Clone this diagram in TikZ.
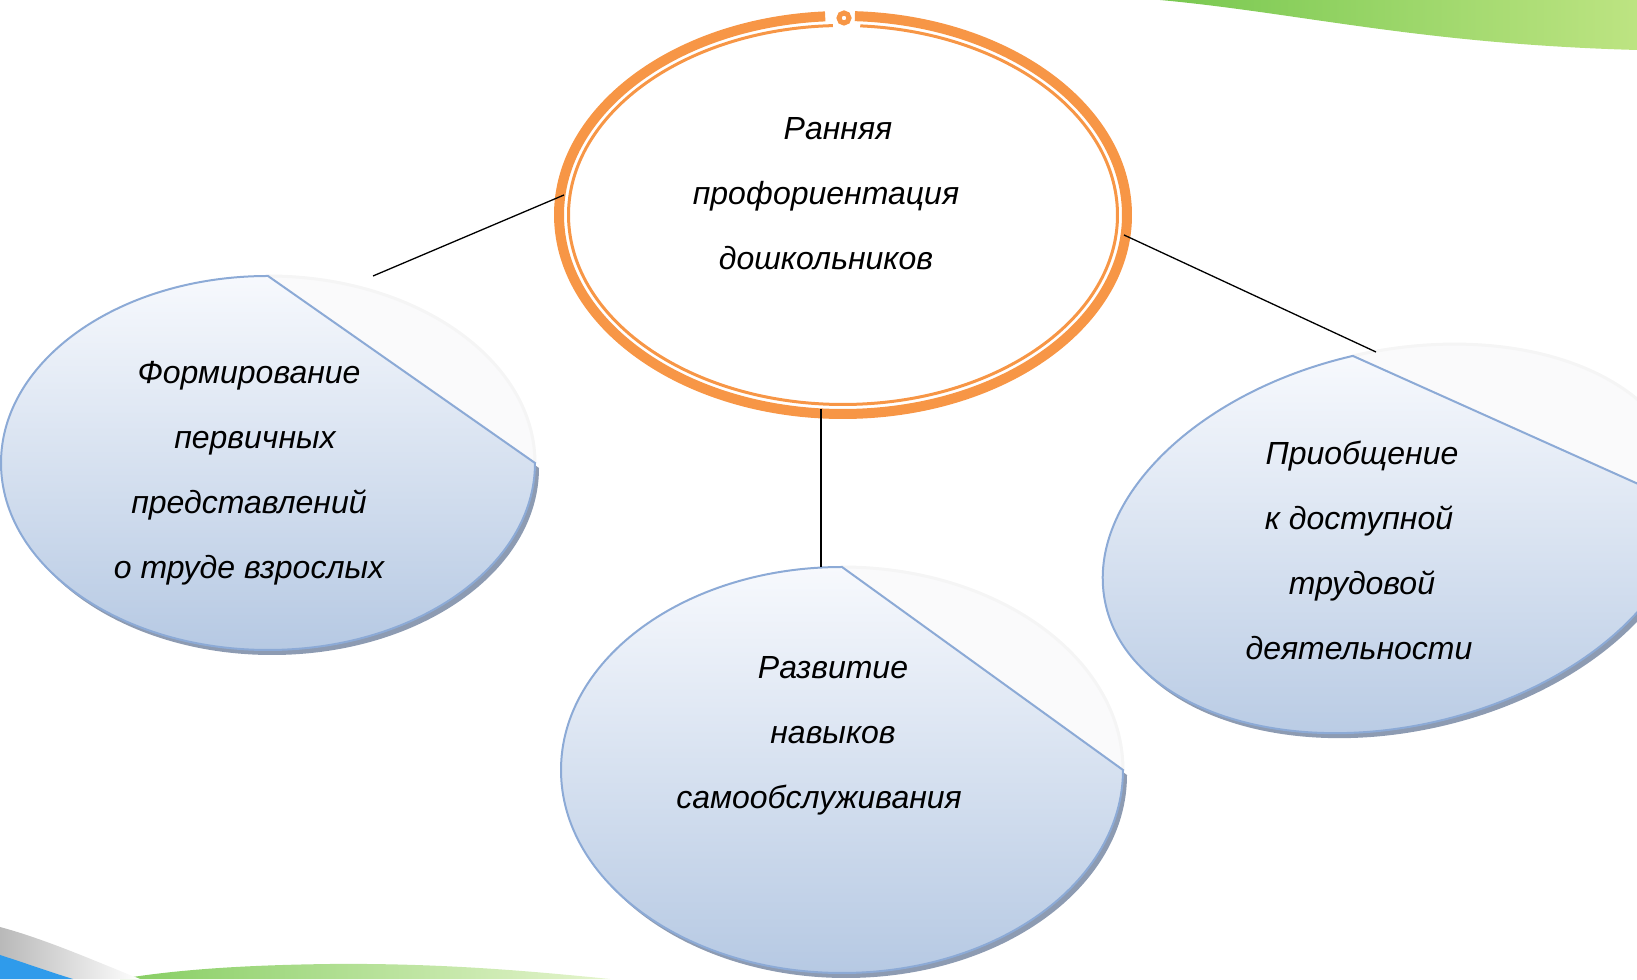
\documentclass[tikz,border=0pt]{standalone}
\usepackage{fontspec}
\setmainfont{Liberation Sans}
\definecolor{band}{HTML}{F79646}
\definecolor{edge}{HTML}{8CAAD6}
\definecolor{topfill}{HTML}{F7F9FD}
\definecolor{botfill}{HTML}{B6C9E3}
\definecolor{shadowc}{HTML}{8D9BB2}
\definecolor{faint}{HTML}{FAFAFB}
\definecolor{greenA}{HTML}{78C850}
\definecolor{greenB}{HTML}{BDE482}
\definecolor{blueC}{HTML}{2F9BEB}
\begin{document}
\begin{tikzpicture}[x=0.5pt,y=0.5pt,
  lbl/.style={font=\fontsize{16}{32.5}\selectfont\itshape, align=center, inner sep=0pt},
  conn/.style={black, line width=0.65pt},
  pieshape/.style={draw=edge, line width=1pt, top color=topfill, bottom color=botfill},
  shadowshape/.style={fill=shadowc},
  faintshape/.style={fill=faint},
  faintedge/.style={draw=black!4, line width=1.5pt}]
\useasboundingbox (0,0) rectangle (1637,979);
\clip (0,0) rectangle (1637,979);

% decorative bands
\shade[left color=greenA, right color=greenB] (1160,979) .. controls (1300,966) and (1420,935) .. (1637,929) -- (1637,979) -- cycle;
\shade[left color=greenA!90!white, right color=greenB!40!white] (120,0) .. controls (180,10) and (250,14) .. (330,15) .. controls (440,16) and (530,8) .. (610,0) -- cycle;
\shade[left color=gray!55, right color=white] (0,52) .. controls (45,40) and (95,18) .. (140,0) -- (0,0) -- cycle;
\fill[blueC] (0,24) .. controls (25,16) and (50,7) .. (73,0) -- (0,0) -- cycle;

% left shape
\fill[shadowshape] (272,698) arc[start angle=90,end angle=360,x radius=267,y radius=187] -- cycle;
\fill[faintshape] (535,516) arc[start angle=0,end angle=90,x radius=267,y radius=187] -- cycle;
\draw[faintedge] (535,516) arc[start angle=0,end angle=90,x radius=267,y radius=187];
\path[pieshape] (268,703) arc[start angle=90,end angle=360,x radius=267,y radius=187] -- cycle;

% bottom shape
\fill[shadowshape] (846,407) arc[start angle=90,end angle=360,x radius=281,y radius=203] -- cycle;
\fill[faintshape] (1123,209) arc[start angle=0,end angle=90,x radius=281,y radius=203] -- cycle;
\draw[faintedge] (1123,209) arc[start angle=0,end angle=90,x radius=281,y radius=203];
\path[pieshape] (842,412) arc[start angle=90,end angle=360,x radius=281,y radius=203] -- cycle;

% right shape (tilted)
\begin{scope}[shift={(1399,435.4)}, rotate=13]
\fill[shadowshape] (0,187.5) arc[start angle=90,end angle=349.6,x radius=296.8,y radius=187.5] -- cycle;
\end{scope}
\begin{scope}[shift={(1395,440.4)}, rotate=13]
\fill[faintshape] (-10.4:296.8 and 187.5) arc[start angle=-10.4,end angle=90,x radius=296.8,y radius=187.5] -- cycle;
\draw[faintedge] (-10.4:296.8 and 187.5) arc[start angle=-10.4,end angle=90,x radius=296.8,y radius=187.5];
\path[pieshape] (0,187.5) arc[start angle=90,end angle=349.6,x radius=296.8,y radius=187.5] -- cycle;
\end{scope}

% central ellipse
\draw[band, line width=5pt] (843,764) ++(93.6:284 and 199) arc[start angle=93.6,end angle=447.6,x radius=284,y radius=199];
\draw[band, line width=1.5pt] (843,764) ++(92.1:274.5 and 189.5) arc[start angle=92.1,end angle=446.4,x radius=274.5,y radius=189.5];
\draw[band, line width=2.5pt] (844,961) circle[radius=5];

% connector ends
\coordinate (cL) at (564,784);
\coordinate (cR) at (1124,744);
\coordinate (cB) at (821,570);
\coordinate (lT) at (373,703);
\coordinate (bT) at (821,412);
\coordinate (rT) at (1376,627);
\draw[conn] (cL) -- (lT);
\draw[conn] (cR) -- (rT);
\draw[conn] (cB) -- (bT);

% texts
\node[lbl] (tC) at (826,785) {\hspace*{12pt}Ранняя\\профориентация\\дошкольников};
\node[lbl] (tL) at (249,506) {Формирование\\\hspace*{6pt}первичных\\представлений\\о труде взрослых};
\node[lbl] (tB) at (819,243) {\hspace*{14pt}Развитие\\\hspace*{14pt}навыков\\самообслуживания};
\node[lbl] (tR) at (1359,429) {\hspace*{3pt}Приобщение\\к доступной\\\hspace*{3pt}трудовой\\деятельности};
\end{tikzpicture}
\end{document}
